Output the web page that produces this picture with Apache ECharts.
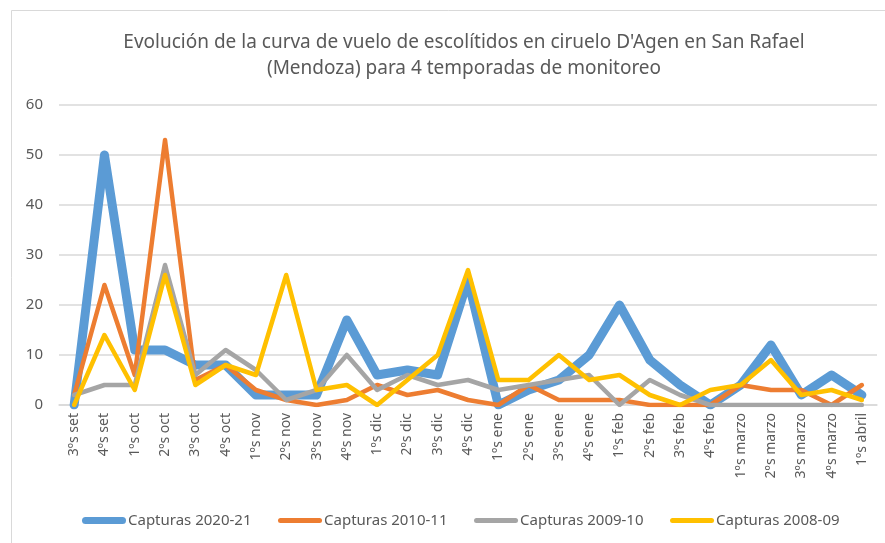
<!DOCTYPE html>
<html><head><meta charset="utf-8">
<script src="https://cdn.jsdelivr.net/npm/echarts@6/dist/echarts.min.js"></script>
<style>html,body{margin:0;padding:0;background:#fff}#c{width:885px;height:543px}</style>
</head><body><div id="c"></div>
<script>
var categories = ['3ºs set','4ºs set','1ºs oct','2ºs oct','3ºs oct','4ºs oct','1ºs nov','2ºs nov','3ºs nov','4ºs nov','1ºs dic','2ºs dic','3ºs dic','4ºs dic','1ºs ene','2ºs ene','3ºs ene','4ºs ene','1ºs feb','2ºs feb','3ºs feb','4ºs feb','1ºs marzo','2ºs marzo','3ºs marzo','4ºs marzo','1ºs abril'];
var cap2020 = [0,50,11,11,8,8,2,2,2,17,6,7,6,25,0,3,5,10,20,9,4,0,4,12,2,6,2];
var cap2010 = [2,24,6,53,5,8,3,1,0,1,4,2,3,1,0,4,1,1,1,0,0,0,4,3,3,0,4];
var cap2009 = [2,4,4,28,6,11,7,1,3,10,3,6,4,5,3,4,5,6,0,5,2,0,0,0,0,0,0];
var cap2008 = [0,14,3,26,4,8,6,26,3,4,0,5,10,27,5,5,10,5,6,2,0,3,4,9,2,3,1];
var seriesNames = ['Capturas 2020-21','Capturas 2010-11','Capturas 2009-10','Capturas 2008-09'];
var yTicks = {min:0, max:60, interval:10};

var font = '"Noto Sans", "Open Sans", sans-serif';
var colors = ['#5B9BD5','#ED7D31','#A5A5A5','#FFC000'];
var widths = [9,4.5,4.5,4.5];
var dataSets = [cap2020, cap2010, cap2009, cap2008];
var thickIcon = 'path://M0,0L0,0M44,10L44,10M3.5,1.5L40.5,1.5A3.5,3.5,0,0,1,40.5,8.5L3.5,8.5A3.5,3.5,0,0,1,3.5,1.5Z';
var thinIcon = 'path://M0,0L0,0M44,10L44,10M2.5,2.5L41.5,2.5A2.5,2.5,0,0,1,41.5,7.5L2.5,7.5A2.5,2.5,0,0,1,2.5,2.5Z';

var chart = echarts.init(document.getElementById('c'), null, {renderer:'canvas'});
chart.setOption({
  animation:false,
  backgroundColor:'#fff',
  graphic:[{type:'rect', shape:{x:11.5,y:10.5,width:900,height:560}, style:{fill:'none', stroke:'#d9d9d9', lineWidth:1}, silent:true}],
  title:{
    text:'Evolución de la curva de vuelo de escolítidos en ciruelo D\'Agen en San Rafael\n(Mendoza) para 4 temporadas de monitoreo',
    left:459, top:25, textAlign:'center',
    textStyle:{fontFamily:font, fontSize:19, fontWeight:'normal', color:'#595959', lineHeight:26}
  },
  legend:{
    data:seriesNames.map(function(n,i){return {name:n, icon: i===0?thickIcon:thinIcon};}),
    bottom:10, left:77, itemWidth:44, itemHeight:10, itemGap:26.5,
    textStyle:{fontFamily:font, fontSize:15, color:'#595959', padding:[0,0,0,-3]}
  },
  grid:{left:59, right:8, top:105, bottom:138, containLabel:false},
  xAxis:{
    type:'category', data:categories, boundaryGap:true,
    axisLine:{lineStyle:{color:'#d9d9d9', width:1.5}},
    axisTick:{show:false},
    axisLabel:{rotate:90, interval:0, fontFamily:font, fontSize:14, color:'#595959', margin:8}
  },
  yAxis:{
    type:'value', min:yTicks.min, max:yTicks.max, interval:yTicks.interval,
    axisLine:{show:false}, axisTick:{show:false},
    axisLabel:{fontFamily:font, fontSize:15, color:'#595959', margin:16},
    splitLine:{lineStyle:{color:'#d9d9d9', width:1.5}}
  },
  series: seriesNames.map(function(n,i){
    return {name:n, type:'line', data:dataSets[i], symbol:'none', showSymbol:false,
      lineStyle:{color:colors[i], width:widths[i], join:'round', cap:'round'},
      itemStyle:{color:colors[i]}, z:2+i};
  })
});
</script></body></html>
